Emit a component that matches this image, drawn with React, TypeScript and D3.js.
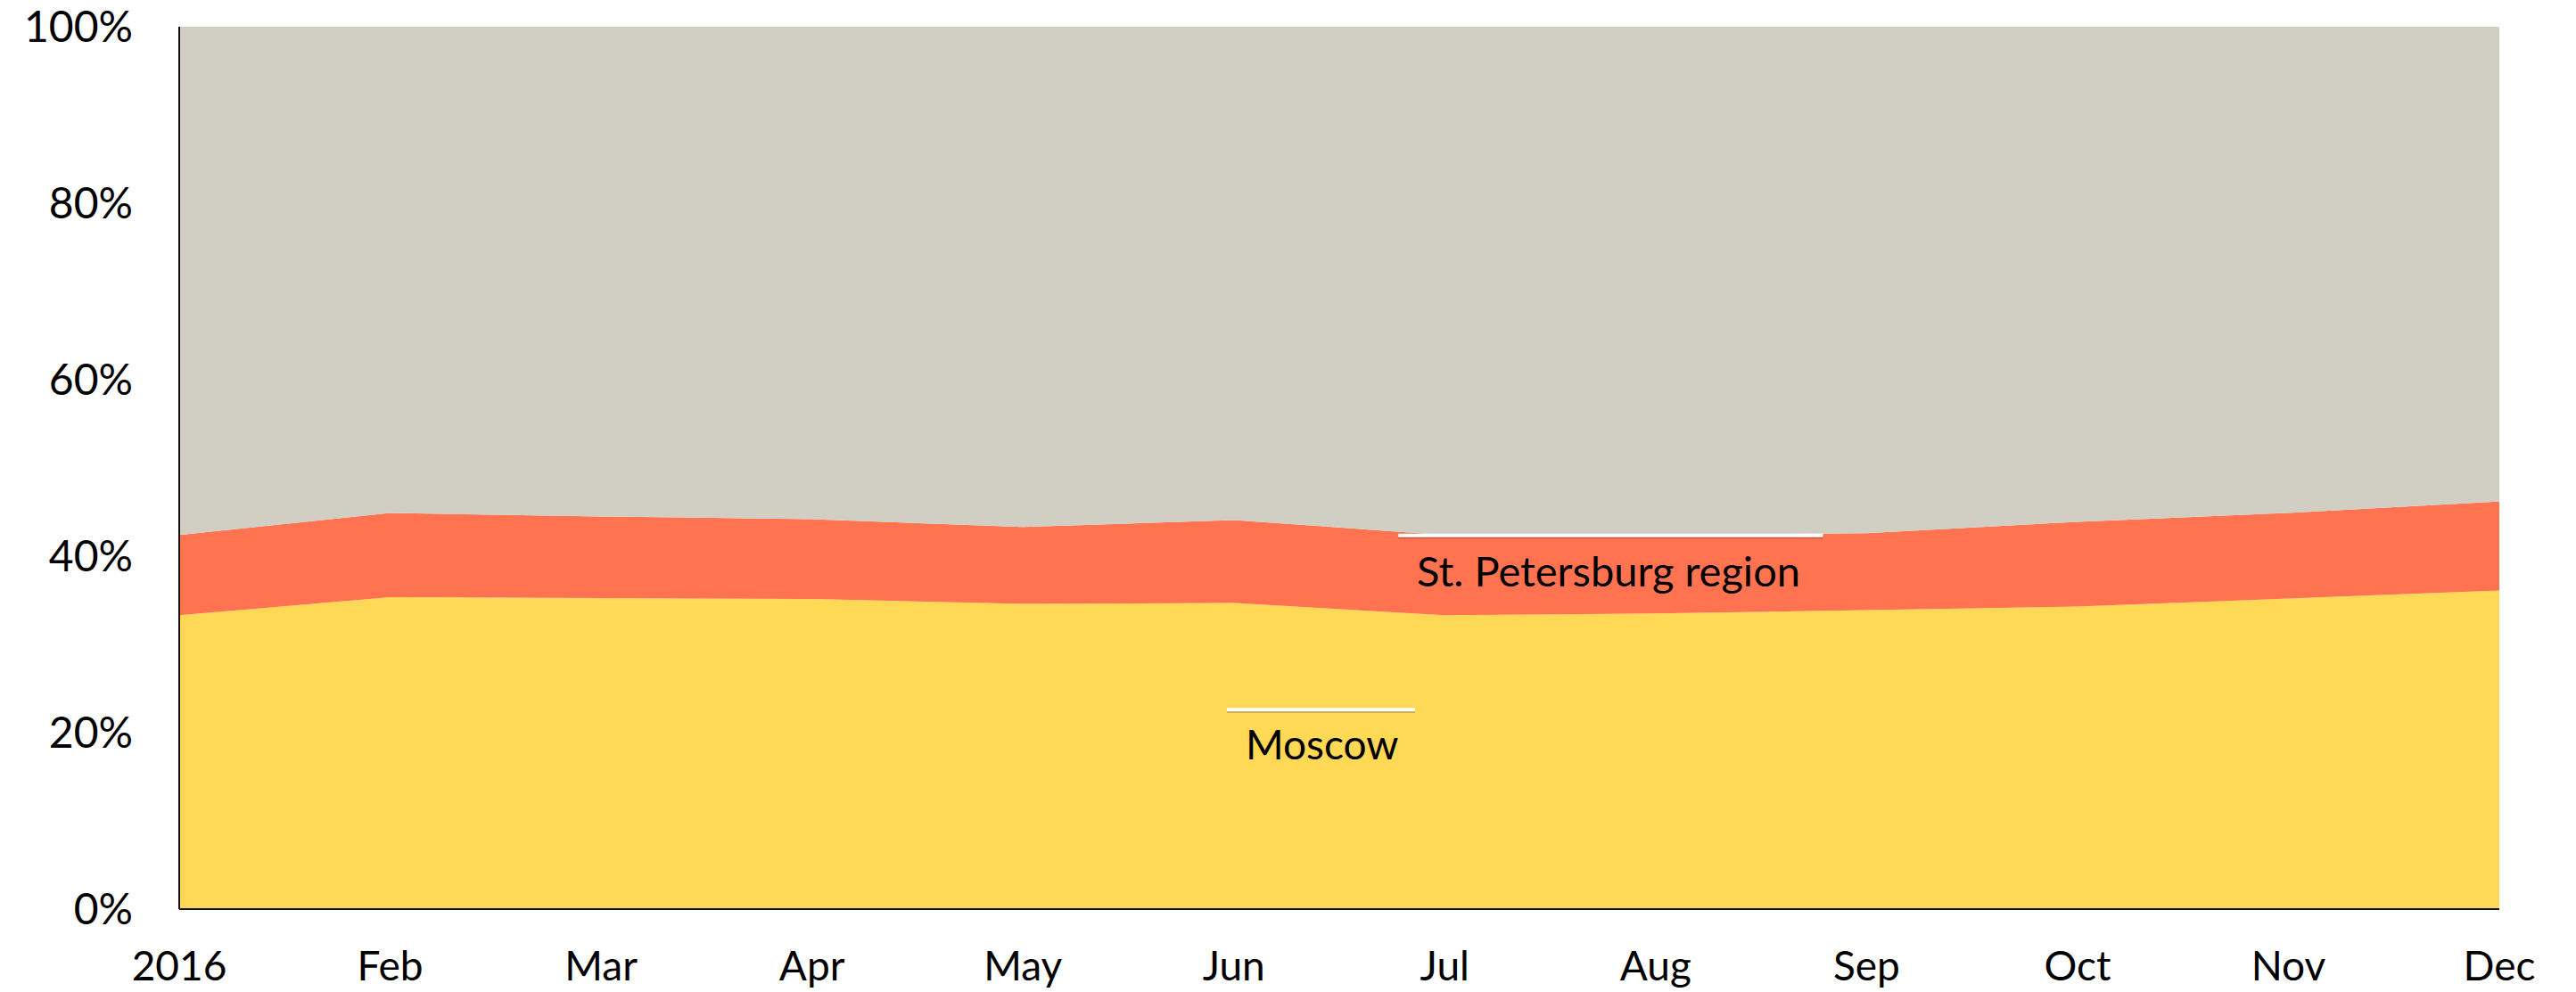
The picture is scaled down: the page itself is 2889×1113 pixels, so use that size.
import React from "react";
import * as d3 from "d3";

const months = ["2016", "Feb", "Mar", "Apr", "May", "Jun", "Jul", "Aug", "Sep", "Oct", "Nov", "Dec"];
const moscow = [33.3, 35.35, 35.25, 35.15, 34.6, 34.7, 33.3, 33.5, 33.9, 34.3, 35.2, 36.1];
const stPetersburg = [9.1, 9.55, 9.25, 9.05, 8.7, 9.4, 9.1, 8.9, 8.7, 9.6, 9.7, 10.1];
const other = moscow.map((m, i) => 100 - m - stPetersburg[i]);
const yTicks = [0, 20, 40, 60, 80, 100];

const W = 2889, H = 1113;
const M = { left: 201, right: 2803, top: 30, bottom: 1020 };
const FONT = "Lato, 'Open Sans', sans-serif";

export default function App() {
  const rows = months.map((m, i) => ({ m, moscow: moscow[i], spb: stPetersburg[i], other: other[i] }));
  const stack = d3.stack<any>().keys(["moscow", "spb", "other"]);
  const series = stack(rows);
  const x = d3.scalePoint<string>().domain(months).range([M.left, M.right]);
  const y = d3.scaleLinear().domain([0, 100]).range([M.bottom, M.top]);
  const area = d3.area<any>()
    .x((d: any) => x(d.data.m) as number)
    .y0((d: any) => y(d[0]))
    .y1((d: any) => y(d[1]));
  const colors = ["#ffd855", "#ff7350", "#d1cfc4"];

  const spbLineY = y(moscow[7] + stPetersburg[7]) + 0.5;
  const mosLineY = y(22.6);

  return (
    <svg width={W} height={H} style={{ position: "fixed", left: 0, top: 0, background: "#fff" }}>
      {series.map((s, i) => (
        <path key={i} d={area(s as any) as string} fill={colors[i]} />
      ))}
      {/* St. Petersburg annotation */}
      <line x1={x("Jul")! - 52} x2={x("Sep")! - 49} y1={spbLineY + 2} y2={spbLineY + 2} stroke="#000" strokeOpacity={0.25} strokeWidth={3} />
      <line x1={x("Jul")! - 52} x2={x("Sep")! - 49} y1={spbLineY} y2={spbLineY} stroke="#fff" strokeWidth={4} />
      <text x={1589} y={658} fontFamily={FONT} fontSize={47} fill="#000">St. Petersburg region</text>
      {/* Moscow annotation */}
      <line x1={1376} x2={1587} y1={mosLineY + 2} y2={mosLineY + 2} stroke="#000" strokeOpacity={0.25} strokeWidth={3} />
      <line x1={1376} x2={1587} y1={mosLineY} y2={mosLineY} stroke="#fff" strokeWidth={4} />
      <text x={1397} y={852} fontFamily={FONT} fontSize={46} fill="#000">Moscow</text>
      {/* axes */}
      <line x1={M.left} x2={M.left} y1={M.top} y2={M.bottom} stroke="#111" strokeWidth={2} />
      <line x1={M.left} x2={M.right} y1={M.bottom} y2={M.bottom} stroke="#111" strokeWidth={2} />
      {yTicks.map((t) => (
        <text key={t} x={149} y={y(t)} dy="0.36em" textAnchor="end" fontFamily={FONT} fontSize={48} fill="#000">{t}%</text>
      ))}
      {months.map((m) => (
        <text key={m} x={x(m)} y={1100} textAnchor="middle" fontFamily={FONT} fontSize={46} fill="#000">{m}</text>
      ))}
    </svg>
  );
}
